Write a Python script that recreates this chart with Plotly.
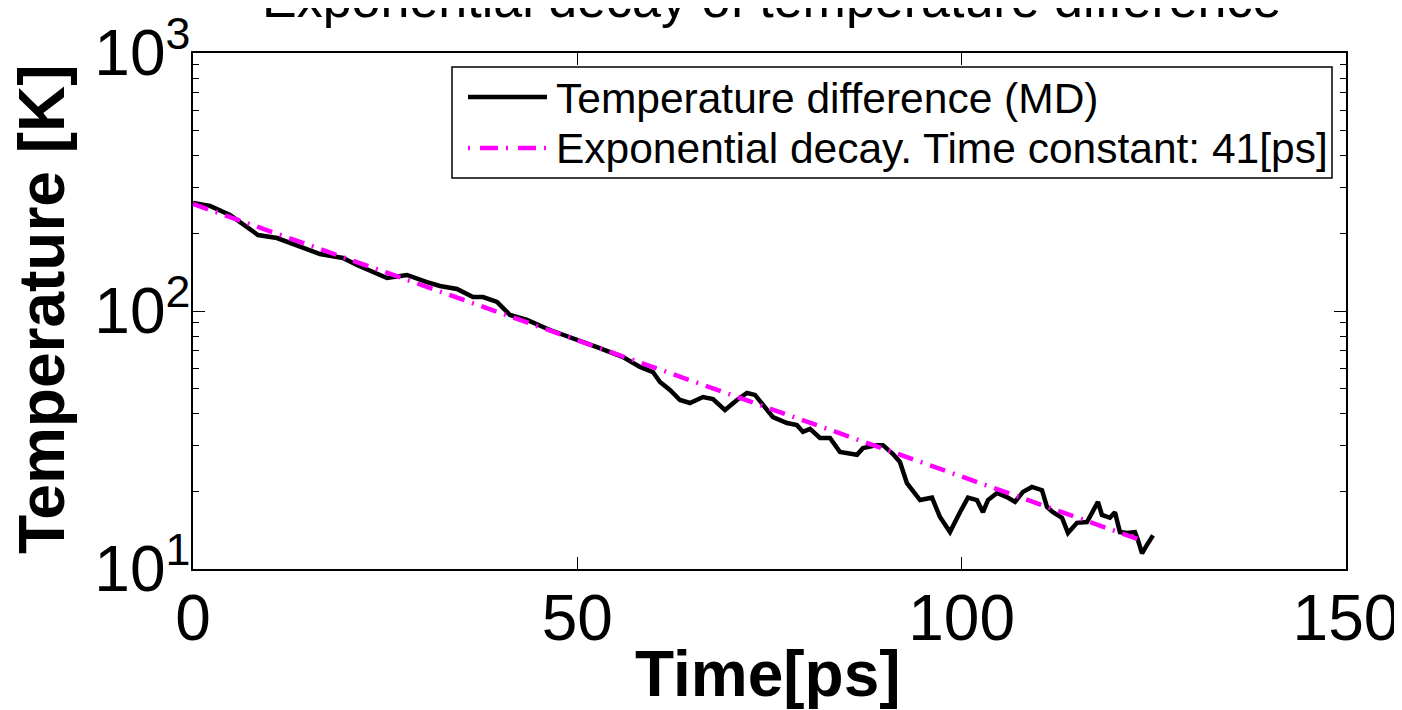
import plotly.graph_objects as go

# ---- data ----
time_ps = [0, 2.21, 4.81, 8.46, 10.93, 13.53, 16.52, 19.51, 21.33, 25.24, 26.54, 27.84,
           30.44, 32.13, 34.34, 36.42, 37.73, 39.55, 41.24, 43.45, 46.44, 48.13, 52.56,
           55.94, 58.15, 59.84, 60.75, 62.05, 63.35, 64.65, 66.35, 67.65, 69.21, 70.77,
           72.07, 73.11, 74.41, 75.45, 77.27, 78.57, 79.35, 80.27, 81.57, 82.87, 84.17,
           85.08, 86.38, 87.16, 88.98, 89.76, 91.06, 91.97, 92.88, 94.58, 96.14, 97.18,
           98.48, 99.78, 100.82, 101.99, 102.77, 103.42, 104.59, 105.89, 106.93, 107.97,
           109.14, 110.45, 111.10, 111.88, 113.05, 113.83, 115.0, 116.3, 117.08, 117.73,
           118.25, 119.29, 119.94, 120.59, 121.50, 122.54, 122.93, 123.46, 124.11, 124.89]
temp_K = [262.2, 255.3, 235.6, 197.0, 191.8, 180.3, 166.3, 160.5, 150.8, 134.3, 135.5, 137.9,
          129.5, 125.0, 121.7, 113.3, 113.3, 108.4, 96.5, 92.3, 84.4, 80.7, 72.5,
          66.3, 60.7, 58.0, 53.1, 49.4, 45.2, 44.0, 46.4, 45.6, 41.3, 45.2,
          48.1, 47.3, 42.1, 38.8, 36.8, 36.1, 34.0, 34.9, 32.2, 32.2, 28.4,
          28.2, 27.7, 29.4, 30.2, 30.2, 27.9, 26.0, 21.5, 18.5, 18.9, 15.9,
          13.9, 16.6, 18.9, 18.5, 16.6, 18.5, 19.7, 19.0, 18.2, 19.9,
          20.8, 20.2, 17.4, 16.6, 15.8, 13.8, 15.1, 15.2, 16.6, 18.2,
          16.2, 15.8, 16.6, 13.9, 13.8, 13.9, 12.96, 11.5, 12.4, 13.5]

fit_t = [0, 123.6]
fit_T = [260.0, 12.85]

x_ticks = [0, 50, 100, 150]
y_ticks = [10, 100, 1000]
y_ticktext = ["10<sup>1</sup>", "10<sup>2</sup>", "10<sup>3</sup>"]
y_minor = [20, 30, 40, 50, 60, 70, 80, 90, 200, 300, 400, 500, 600, 700, 800, 900]

series_names = ["Temperature difference (MD)", "Exponential decay. Time constant: 41[ps]"]
title_text = "Exponential decay of temperature difference"
x_title = "Time[ps]"
y_title = "Temperature [K]"

FONT = "Liberation Sans, Arial, Helvetica, sans-serif"
MAGENTA = "#FF00FF"
DASHDOT = "16px,8px,2px,8px"

fig = go.Figure()
fig.add_trace(go.Scatter(x=time_ps, y=temp_K, mode="lines", name=series_names[0],
                         line=dict(color="black", width=4.5), showlegend=False))
fig.add_trace(go.Scatter(x=fit_t, y=fit_T, mode="lines", name=series_names[1],
                         line=dict(color=MAGENTA, width=4.5, dash=DASHDOT), showlegend=False))

axis_common = dict(showline=True, linecolor="black", linewidth=1.5, mirror="allticks",
                   ticks="inside", tickcolor="black", tickwidth=1, showgrid=False,
                   zeroline=False, ticklabeloverflow="allow",
                   tickfont=dict(family=FONT, size=64, color="black"))

fig.update_xaxes(range=[0, 150], tickmode="array", tickvals=x_ticks, ticklen=12,
                 ticklabelstandoff=-8, **axis_common)
fig.update_yaxes(type="log", range=[1, 3], tickmode="array", tickvals=y_ticks,
                 ticktext=y_ticktext, ticklen=12, ticklabelstandoff=-12,
                 minor=dict(tickmode="array", tickvals=y_minor, ticks="inside", ticklen=6,
                            tickcolor="black", tickwidth=1, showgrid=False),
                 **axis_common)

# page offset (default body margin of the html page)
OFF = 8
W, H = 1402 - OFF, 710 - OFF
PL, PR, PT, PB = 193, 1346, 53, 569        # plot area in page pixels
L, R, T, B = PL - OFF, 1402 - PR, PT - OFF, 710 - PB
pw, ph = PR - PL, PB - PT

def px(x):
    return (x - PL) / pw

def py(y):
    return (PB - y) / ph

shapes = [
    dict(type="rect", xref="paper", yref="paper", x0=px(452), x1=px(1332), y0=py(178), y1=py(67),
         line=dict(color="black", width=1.5), fillcolor="white", layer="above"),
    dict(type="line", xref="paper", yref="paper", x0=px(468), x1=px(547), y0=py(97), y1=py(97),
         line=dict(color="black", width=4.5), layer="above"),
    dict(type="line", xref="paper", yref="paper", x0=px(468), x1=px(547), y0=py(148), y1=py(148),
         line=dict(color=MAGENTA, width=4.5, dash="2px,10px,18px,8px"), layer="above"),
]

annotations = [
    dict(text=series_names[0], xref="paper", yref="paper", x=px(554), y=py(98), xanchor="left",
         yanchor="middle", showarrow=False, font=dict(family=FONT, size=42.5, color="black")),
    dict(text=series_names[1], xref="paper", yref="paper", x=px(554), y=py(148.5), xanchor="left",
         yanchor="middle", showarrow=False, font=dict(family=FONT, size=42.5, color="black")),
    dict(text=title_text, xref="paper", yref="paper", x=px(771), y=py(-1), xanchor="center",
         yanchor="middle", showarrow=False, font=dict(family=FONT, size=52, color="black")),
    dict(text="<b>" + x_title + "</b>", xref="paper", yref="paper", x=px(768), y=py(674),
         xanchor="center", yanchor="middle", showarrow=False,
         font=dict(family=FONT, size=64, color="black")),
    dict(text="<b>" + y_title + "</b>", xref="paper", yref="paper", x=px(42), y=py(309),
         xanchor="center", yanchor="middle", textangle=-90, showarrow=False,
         font=dict(family=FONT, size=64, color="black")),
]

fig.update_layout(width=W, height=H, margin=dict(l=L, r=R, t=T, b=B, autoexpand=False),
                  paper_bgcolor="white", plot_bgcolor="white", showlegend=False,
                  shapes=shapes, annotations=annotations,
                  font=dict(family=FONT, color="black"))

fig.write_html("out.html")
